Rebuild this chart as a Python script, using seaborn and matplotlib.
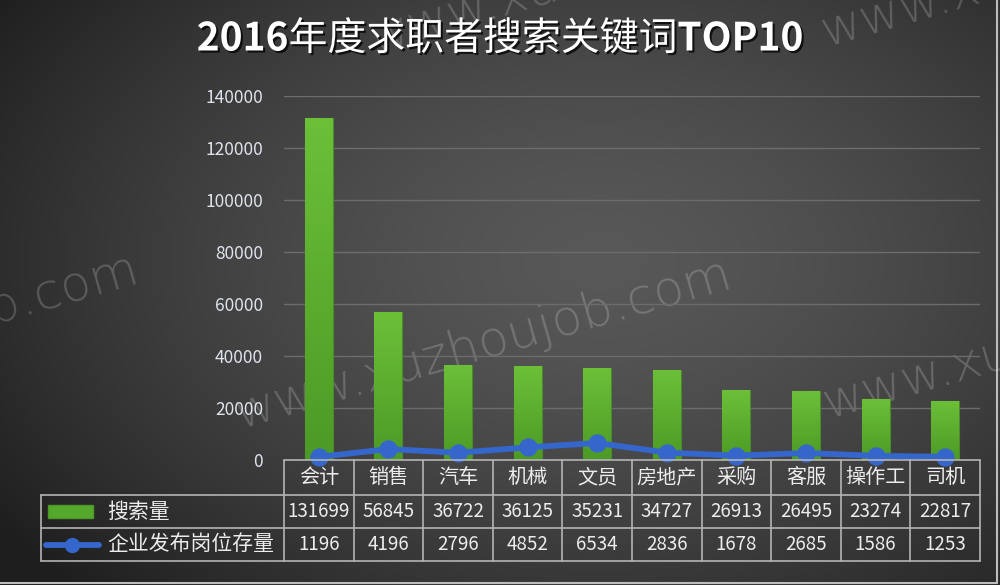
import numpy as np
import matplotlib
matplotlib.use("Agg")
import matplotlib.pyplot as plt
import seaborn as sns
from matplotlib.lines import Line2D
from matplotlib.patches import Rectangle
from matplotlib.transforms import blended_transform_factory
from matplotlib.colors import LinearSegmentedColormap
import matplotlib.patheffects as pe

categories = ["会计", "销售", "汽车", "机械", "文员", "房地产", "采购", "客服", "操作工", "司机"]
search_volume = [131699, 56845, 36722, 36125, 35231, 34727, 26913, 26495, 23274, 22817]
job_stock = [1196, 4196, 2796, 4852, 6534, 2836, 1678, 2685, 1586, 1253]
series_names = ["搜索量", "企业发布岗位存量"]
yticks = [0, 20000, 40000, 60000, 80000, 100000, 120000, 140000]
title_parts = [("2016", "bold"), ("年度求职者搜索关键词", "normal"), ("TOP10", "bold")]
watermark = "www.xuzhoujob.com"

sns.set_theme(style="dark")
plt.rcParams['font.family'] = ['Noto Sans CJK SC', 'DejaVu Sans']

W, H = 1000, 585
fig = plt.figure(figsize=(10, 5.85), dpi=100)

def fx(x): return x / W
def fy(y): return 1 - y / H

# background radial gradient
bg = fig.add_axes([0, 0, 1, 1], zorder=-10)
yy, xx = np.mgrid[0:H, 0:W]
r = np.sqrt(((xx - 600) / 650.0) ** 2 + ((yy - 260) / 420.0) ** 2)
g = np.clip(0.345 - 0.19 * r ** 1.5, 0.12, 0.4)
bg.imshow(np.dstack([g, g, g]), extent=[0, W, H, 0], aspect='auto')
bg.set_xlim(0, W); bg.set_ylim(H, 0); bg.axis('off')
bg.plot([997, 997], [0, 583], color='#bdbdbd', lw=1.5)
bg.plot([0, 997], [583, 583], color='#bdbdbd', lw=1.5)

# watermarks
wm_kw = dict(color='white', alpha=0.2, fontsize=36, rotation=16, rotation_mode='anchor',
             family='DejaVu Sans', fontweight='light', va='baseline', clip_on=True)
bg.text(240, 428, watermark, ha='left', **wm_kw)
bg.text(142, 282, watermark, ha='right', **wm_kw)
bg.text(374, 52, watermark, ha='left', **wm_kw)
bg.text(826, 46, watermark, ha='left', **wm_kw)
bg.text(828, 418, watermark, ha='left', **wm_kw)

# main axes
ax = fig.add_axes([fx(284), fy(460), fx(980) - fx(284), fy(96) - fy(460)])
ax.set_facecolor('none')
sns.barplot(x=categories, y=search_volume, color='#5cb030', width=0.4, ax=ax, zorder=3,
            edgecolor='#4a8a28', linewidth=0.8)
cmap = LinearSegmentedColormap.from_list('gr', ['#4c9a26', '#6cc038'])
grad = np.linspace(0, 1, 256).reshape(-1, 1)
for p in ax.patches:
    x0, w, h = p.get_x(), p.get_width(), p.get_height()
    im = ax.imshow(grad, extent=[x0, x0 + w, 0, h], origin='lower', aspect='auto',
                   cmap=cmap, zorder=3.1)
    im.set_clip_path(p)
sns.pointplot(x=categories, y=job_stock, color='#3566cc', markers='o', errorbar=None,
              markersize=10, linewidth=4.2, ax=ax, zorder=5)
for ln in ax.lines:
    ln.set_zorder(5)
    ln.set_clip_on(False)
for c in ax.collections:
    c.set_zorder(6); c.set_clip_on(False)

ax.set_xlim(-0.5, len(categories) - 0.5)
ax.set_ylim(0, 140000)
ax.set_yticks(yticks)
ax.set_yticklabels([str(t) for t in yticks])
ax.tick_params(axis='y', colors='#dfe3ec', labelsize=12.5, length=0, pad=15)
ax.tick_params(axis='x', length=0, labelbottom=False)
ax.set_xlabel(''); ax.set_ylabel('')
for s in ax.spines.values():
    s.set_visible(False)
ax.yaxis.grid(True, color='#6c6c6c', lw=1)
ax.set_axisbelow(True)

# title composed of parts (bold latin, regular CJK)
renderer = fig.canvas.get_renderer()
shadow = [pe.withSimplePatchShadow(offset=(1.5, -1.5), shadow_rgbFace='black', alpha=0.75)]
texts = []
for s, wt in title_parts:
    t = fig.text(0, fy(39), s, ha='left', va='center', color='white', fontsize=28,
                 fontweight=wt, path_effects=shadow)
    texts.append(t)
widths = [t.get_window_extent(renderer).width for t in texts]
total = sum(widths)
xpos = (W - total) / 2
for t, w in zip(texts, widths):
    t.set_x(fx(xpos))
    xpos += w

# data table
tr = blended_transform_factory(ax.transData, fig.transFigure)
lc = '#b4b4b4'
lw = 1.2
n = len(categories)
y_top, y_r1, y_r2, y_bot = 460, 495, 528, 561
for yv, x0 in [(y_top, 284), (y_r1, 41), (y_r2, 41), (y_bot, 41)]:
    fig.add_artist(Line2D([fx(x0), fx(980)], [fy(yv), fy(yv)], color=lc, lw=lw))
for i in range(n + 1):
    xd = i - 0.5
    fig.add_artist(Line2D([xd, xd], [fy(y_top), fy(y_bot)], color=lc, lw=lw, transform=tr))
fig.add_artist(Line2D([fx(41), fx(41)], [fy(y_r1), fy(y_bot)], color=lc, lw=lw))

txt_col = '#ececec'
for i, c in enumerate(categories):
    fig.text(i, fy((y_top + y_r1) / 2), c, transform=tr, ha='center', va='center',
             color=txt_col, fontsize=14.5)
    fig.text(i, fy((y_r1 + y_r2) / 2), str(search_volume[i]), transform=tr, ha='center',
             va='center', color=txt_col, fontsize=13.5)
    fig.text(i, fy((y_r2 + y_bot) / 2), str(job_stock[i]), transform=tr, ha='center',
             va='center', color=txt_col, fontsize=13.5)

# legend keys
fig.add_artist(Rectangle((fx(48), fy(518)), fx(93) - fx(48), fy(505) - fy(518),
                         facecolor='#56a82c', edgecolor='#4a9a25', transform=fig.transFigure))
fig.add_artist(Line2D([fx(46), fx(99)], [fy(544.5), fy(544.5)], color='#3566cc', lw=4.2,
                      solid_capstyle='round'))
fig.add_artist(Line2D([fx(72)], [fy(544.5)], color='#3566cc', marker='o', markersize=10))
fig.text(fx(107), fy((y_r1 + y_r2) / 2), series_names[0], ha='left', va='center',
         color=txt_col, fontsize=15)
fig.text(fx(107), fy((y_r2 + y_bot) / 2), series_names[1], ha='left', va='center',
         color=txt_col, fontsize=15)

fig.savefig('out.png', dpi=100)
